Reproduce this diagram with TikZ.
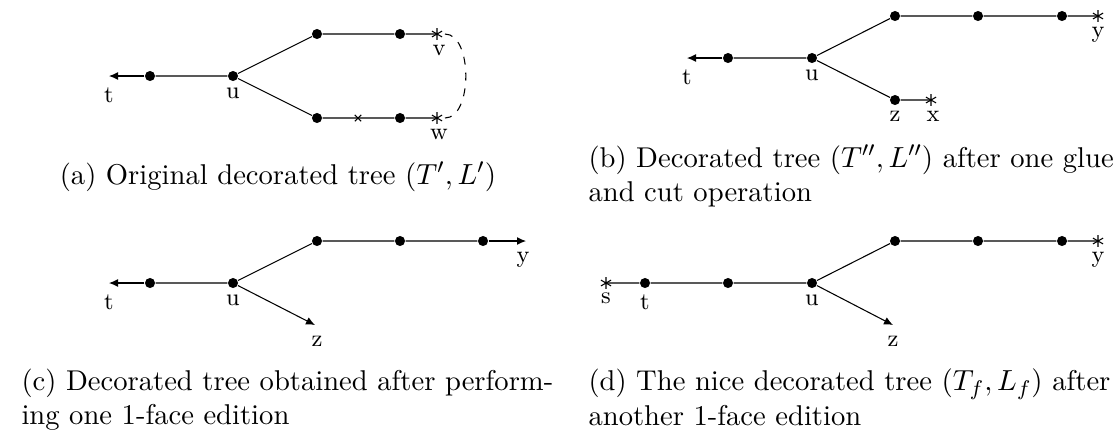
\documentclass[tikz,border=0pt]{standalone}
\usetikzlibrary{arrows.meta}
\begin{document}
\def\capw{197.8pt}
\begin{tikzpicture}[x=0.3774pt,y=-0.3774pt,
  dot/.style={circle,fill=black,inner sep=0pt,minimum size=3.8pt},
  lab/.style={anchor=north,inner sep=0pt,font=\fontsize{9}{11}\selectfont},
  captxt/.style={inner sep=0pt,font=\fontsize{10.8}{13}\selectfont},
  arr/.style={-{Latex[length=3.4pt,width=3pt]}},
  ast/.pic={\draw[line width=0.4pt] (90:2.2pt)--(-90:2.2pt) (30:2.2pt)--(210:2.2pt) (150:2.2pt)--(-30:2.2pt);},
  crs/.pic={\draw[line width=0.4pt] (45:1.7pt)--(225:1.7pt) (135:1.7pt)--(-45:1.7pt);}
]
\useasboundingbox (0,0) rectangle (1120,432);

% ---------- (a) ----------
\coordinate (At) at (109,76);
\node[dot] (A1) at (150,76) {};
\node[dot] (Au) at (233,76) {};
\node[dot] (A2) at (317,34) {};
\node[dot] (A3) at (400,34) {};
\coordinate (Av) at (437,34);
\node[dot] (A4) at (317,118) {};
\coordinate (Ax) at (358,118);
\node[dot] (A5) at (400,118) {};
\coordinate (Aw) at (437,118);
\draw[arr] (A1) -- (At);
\draw (A1) -- (Au) (Au) -- (A2) (A2) -- (A3) (A3) -- (Av);
\draw (Au) -- (A4) (A4) -- (Ax) -- (A5) (A5) -- (Aw);
\pic at (Av) {ast};
\pic at (Aw) {ast};
\pic at (Ax) {crs};
\draw[dashed] ([xshift=3pt]Av) .. controls +(10.5pt,0) and +(10.5pt,0) .. ([xshift=3pt]Aw);
\node[lab] (lAt) at (109,87) {t};
\node[lab] (lAu) at (233,87) {u};
\node[lab] (lAv) at (439,45) {v};
\node[lab] (lAw) at (439,129) {w};

% ---------- (b) ----------
\coordinate (Bt) at (687,58);
\node[dot] (B1) at (728,58) {};
\node[dot] (Bu) at (812,58) {};
\node[dot] (B2) at (895,16) {};
\node[dot] (B3) at (978,16) {};
\node[dot] (B4) at (1062,16) {};
\coordinate (By) at (1098,16);
\node[dot] (Bz) at (895,100) {};
\coordinate (Bx) at (931,100);
\draw[arr] (B1) -- (Bt);
\draw (B1) -- (Bu) (Bu) -- (B2) (B2) -- (B3) (B3) -- (B4) (B4) -- (By);
\draw (Bu) -- (Bz) (Bz) -- (Bx);
\pic at (By) {ast};
\pic at (Bx) {ast};
\node[lab] (lBt) at (687,69) {t};
\node[lab] (lBu) at (812,69) {u};
\node[lab] (lBy) at (1098,27) {y};
\node[lab] (lBz) at (895,111) {z};
\node[lab] (lBx) at (933,111) {x};

% ---------- (c) ----------
\coordinate (Ct) at (109,283);
\node[dot] (C1) at (150,283) {};
\node[dot] (Cu) at (233,283) {};
\node[dot] (C2) at (317,241) {};
\node[dot] (C3) at (400,241) {};
\node[dot] (C4) at (483,241) {};
\coordinate (Cy) at (526,241);
\coordinate (Cz) at (315,325);
\draw[arr] (C1) -- (Ct);
\draw (C1) -- (Cu) (Cu) -- (C2) (C2) -- (C3) (C3) -- (C4);
\draw[arr] (C4) -- (Cy);
\draw[arr] (Cu) -- (Cz);
\node[lab] (lCt) at (109,294) {t};
\node[lab] (lCu) at (233,294) {u};
\node[lab] (lCy) at (523,252) {y};
\node[lab] (lCz) at (317,336) {z};

% ---------- (d) ----------
\coordinate (Ds) at (606,283);
\node[dot] (Dt) at (645,283) {};
\node[dot] (D1) at (728,283) {};
\node[dot] (Du) at (812,283) {};
\node[dot] (D2) at (895,241) {};
\node[dot] (D3) at (978,241) {};
\node[dot] (D4) at (1062,241) {};
\coordinate (Dy) at (1098,241);
\coordinate (Dz) at (893,325);
\draw (Ds) -- (Dt) (Dt) -- (D1) (D1) -- (Du) (Du) -- (D2) (D2) -- (D3) (D3) -- (D4) (D4) -- (Dy);
\draw[arr] (Du) -- (Dz);
\pic at (Ds) {ast};
\pic at (Dy) {ast};
\node[lab] (lDs) at (606,292) {s};
\node[lab] (lDt) at (645,294) {t};
\node[lab] (lDu) at (812,294) {u};
\node[lab] (lDy) at (1098,252) {y};
\node[lab] (lDz) at (893,336) {z};

% ---------- captions ----------
\node[captxt,anchor=base] (capa) at (278,184) {(a) Original decorated tree $(T',L')$};
\node[captxt,anchor=north west,text width=\capw,align=left] (capb) at (588,144.5)
  {\makebox[\capw][s]{(b) Decorated tree $(T'',L'')$ after one glue}\\and cut operation};
\node[captxt,anchor=north west,text width=\capw,align=left] (capc) at (21,368.5)
  {\makebox[\capw][s]{(c) Decorated tree obtained after perform-}\\ing one 1-face edition};
\node[captxt,anchor=north west,text width=\capw,align=left] (capd) at (588,368.5)
  {\makebox[\capw][s]{(d) The nice decorated tree $(T_f,L_f)$ after}\\another 1-face edition};
\end{tikzpicture}
\end{document}
